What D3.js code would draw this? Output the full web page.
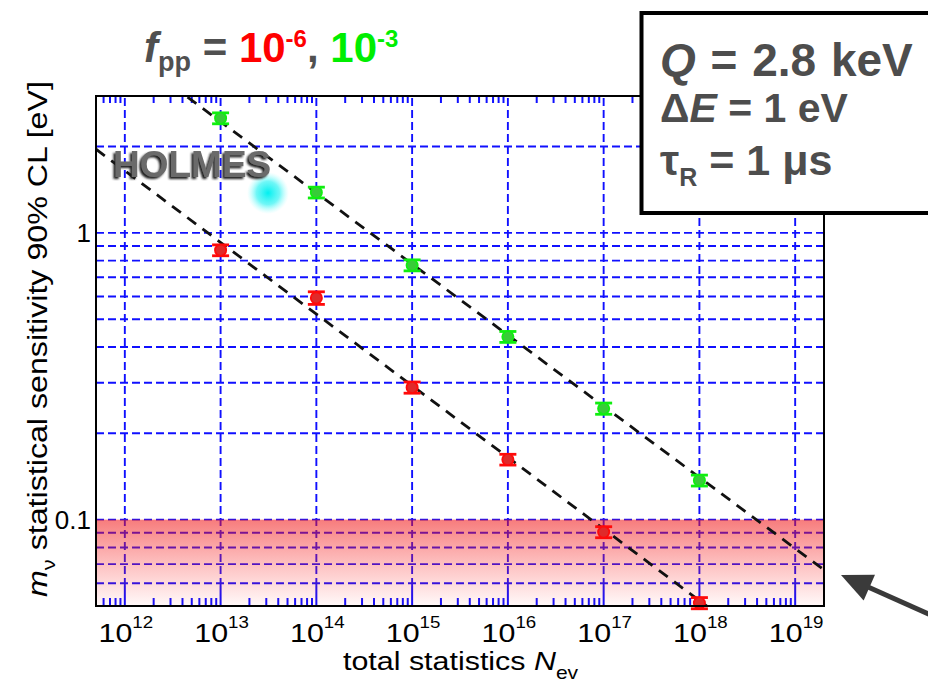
<!DOCTYPE html>
<html>
<head>
<meta charset="utf-8">
<script src="https://cdn.jsdelivr.net/npm/d3@7"></script>
<style>
  html, body { margin: 0; padding: 0; background: #fff; }
  svg { display: block; }
</style>
</head>
<body>
<svg id="chart" width="928" height="685"></svg>
<script>
// Total number of events at which the sensitivity was evaluated
const nEvents = [1e13, 1e14, 1e15, 1e16, 1e17, 1e18];

// f_pp = 1e-6 (red)
const sensLowPileup = [0.870, 0.593, 0.289, 0.162, 0.0905, 0.0512];
const errLowPileup  = [0.038, 0.030, 0.013, 0.007, 0.0040, 0.0023];

// f_pp = 1e-3 (green)
const sensHighPileup = [2.51, 1.383, 0.771, 0.434, 0.244, 0.137];
const errHighPileup  = [0.11, 0.060, 0.034, 0.019, 0.011, 0.006];

// N^-1/4 scaling guides, given by their end points
const guideLowN  = [5e11, 2e19];
const guideLowM  = [1.957, 0.0247];
const guideHighN = [5e11, 2e19];
const guideHighM = [5.13, 0.0668];

// Axes
const xDomain = [5e11, 2e19];
const yDomain = [0.05, 3];
const xTickExponents = [12, 13, 14, 15, 16, 17, 18, 19];
const yTickValues = [1, 0.1];
const yTickText = ["1", "0.1"];
const yGridValues = [2, 1, 0.9, 0.8, 0.7, 0.6, 0.5, 0.4, 0.3, 0.2, 0.1, 0.09, 0.08, 0.07, 0.06];
const targetBand = [0.05, 0.1];

const svg = d3.select("#chart");
const W = 928, H = 685;
const plot = { left: 96, right: 824, top: 96, bottom: 606 };

const x = d3.scaleLog().domain(xDomain).range([plot.left, plot.right]);
const y = d3.scaleLog().domain(yDomain).range([plot.bottom, plot.top]);

const FONT = "'Liberation Sans', Arial, Helvetica, sans-serif";
const STRETCH = 1.17;
const BLUE = "#1010ff";

svg.append("rect").attr("width", W).attr("height", H).attr("fill", "#fff");

const defs = svg.append("defs");
defs.append("clipPath").attr("id", "plotClip")
  .append("rect")
  .attr("x", plot.left).attr("y", plot.top)
  .attr("width", plot.right - plot.left).attr("height", plot.bottom - plot.top);

const bandGrad = defs.append("linearGradient").attr("id", "bandGrad")
  .attr("x1", 0).attr("y1", 0).attr("x2", 0).attr("y2", 1);
bandGrad.append("stop").attr("offset", "0%").attr("stop-color", "#f01010").attr("stop-opacity", 0.55);
bandGrad.append("stop").attr("offset", "100%").attr("stop-color", "#ff3030").attr("stop-opacity", 0.03);

const glowGrad = defs.append("radialGradient").attr("id", "glowGrad");
glowGrad.append("stop").attr("offset", "0%").attr("stop-color", "#00f0f0").attr("stop-opacity", 1);
glowGrad.append("stop").attr("offset", "55%").attr("stop-color", "#40f4f4").attr("stop-opacity", 0.75);
glowGrad.append("stop").attr("offset", "100%").attr("stop-color", "#a0ffff").attr("stop-opacity", 0);

// dark drop shadow for the logo lettering
const logoShadow = defs.append("filter").attr("id", "logoShadow")
  .attr("x", "-10%").attr("y", "-20%").attr("width", "120%").attr("height", "150%");
logoShadow.append("feDropShadow")
  .attr("dx", -2).attr("dy", 2).attr("stdDeviation", 0.8)
  .attr("flood-color", "#1a1a1a").attr("flood-opacity", 1);

// ---- grid ----
const grid = svg.append("g").attr("clip-path", "url(#plotClip)");
xTickExponents.forEach(e => {
  const v = Math.pow(10, e);
  grid.append("line")
    .attr("x1", x(v)).attr("x2", x(v))
    .attr("y1", plot.bottom - 20).attr("y2", plot.top)
    .attr("stroke", BLUE).attr("stroke-width", 1.9)
    .attr("stroke-dasharray", "8,4");
});
yGridValues.forEach(v => {
  grid.append("line")
    .attr("x1", plot.left).attr("x2", plot.right)
    .attr("y1", y(v)).attr("y2", y(v))
    .attr("stroke", BLUE).attr("stroke-width", 1.9)
    .attr("stroke-dasharray", "8,4");
});

// ---- x ticks (bottom and top) ----
const minorX = [];
for (let e = 11; e <= 19; e++) {
  for (let k = 2; k <= 9; k++) {
    const v = k * Math.pow(10, e);
    if (v >= xDomain[0] && v <= xDomain[1]) minorX.push(v);
  }
}
const ticks = svg.append("g").attr("stroke", BLUE).attr("stroke-width", 2);
minorX.forEach(v => {
  ticks.append("line").attr("x1", x(v)).attr("x2", x(v))
    .attr("y1", plot.bottom).attr("y2", plot.bottom - 8);
  ticks.append("line").attr("x1", x(v)).attr("x2", x(v))
    .attr("y1", plot.top).attr("y2", plot.top + 7);
});
xTickExponents.forEach(e => {
  const v = Math.pow(10, e);
  ticks.append("line").attr("x1", x(v)).attr("x2", x(v))
    .attr("y1", plot.bottom).attr("y2", plot.bottom - 20);
});

// ---- target region below 0.1 eV ----
svg.append("rect")
  .attr("x", plot.left).attr("width", plot.right - plot.left)
  .attr("y", y(targetBand[1])).attr("height", y(targetBand[0]) - y(targetBand[1]))
  .attr("fill", "url(#bandGrad)");

// ---- scaling guides ----
const guideLine = d3.line().x(d => x(d[0])).y(d => y(d[1]));
const guides = svg.append("g").attr("clip-path", "url(#plotClip)");
[[guideLowN, guideLowM], [guideHighN, guideHighM]].forEach(([ns, ms]) => {
  guides.append("path")
    .attr("d", guideLine(d3.zip(ns, ms)))
    .attr("fill", "none").attr("stroke", "#111").attr("stroke-width", 2.8)
    .attr("stroke-dasharray", "11,8");
});

// ---- points with error bars ----
function drawSeries(vals, errs, stroke, fill) {
  const g = svg.append("g");
  nEvents.forEach((n, i) => {
    const cx = x(n);
    const yHi = y(vals[i] + errs[i]);
    const yLo = y(vals[i] - errs[i]);
    g.append("line").attr("x1", cx).attr("x2", cx).attr("y1", yHi).attr("y2", yLo)
      .attr("stroke", stroke).attr("stroke-width", 2.2);
    [yHi, yLo].forEach(yy => {
      g.append("line").attr("x1", cx - 8.5).attr("x2", cx + 8.5).attr("y1", yy).attr("y2", yy)
        .attr("stroke", stroke).attr("stroke-width", 2.8);
    });
    g.append("circle").attr("cx", cx).attr("cy", y(vals[i])).attr("r", 5.6)
      .attr("fill", fill).attr("stroke", stroke).attr("stroke-width", 1.8);
  });
}
drawSeries(sensLowPileup, errLowPileup, "#ff0a0a", "#e02a2a");
drawSeries(sensHighPileup, errHighPileup, "#10ee10", "#38cc38");

// ---- frame ----
svg.append("rect")
  .attr("x", plot.left).attr("y", plot.top)
  .attr("width", plot.right - plot.left).attr("height", plot.bottom - plot.top)
  .attr("fill", "none").attr("stroke", "#000").attr("stroke-width", 2);

// ---- tick labels ----
xTickExponents.forEach(e => {
  const t = svg.append("g")
    .attr("transform", `translate(${x(Math.pow(10, e)) + 1},642) scale(${STRETCH},1)`)
    .append("text").attr("text-anchor", "middle")
    .attr("font-family", FONT).attr("font-size", 26).attr("fill", "#000");
  t.append("tspan").text("10");
  t.append("tspan").attr("font-size", 16).attr("dy", -14).text(String(e));
});
yTickValues.forEach((v, i) => {
  svg.append("text")
    .attr("x", 91).attr("y", y(v) + 9.5)
    .attr("text-anchor", "end")
    .attr("font-family", FONT).attr("font-size", 26).attr("fill", "#000")
    .text(yTickText[i]);
});

// ---- axis titles ----
const xTitle = svg.append("g")
  .attr("transform", `translate(343,670) scale(${STRETCH},1)`)
  .append("text").attr("font-family", FONT).attr("font-size", 26).attr("fill", "#000");
xTitle.append("tspan").text("total statistics ");
xTitle.append("tspan").attr("font-style", "italic").text("N");
xTitle.append("tspan").attr("font-size", 18).attr("dy", 9).text("ev");

const yTitle = svg.append("g")
  .attr("transform", `translate(47,597) rotate(-90) scale(1.15,1)`)
  .append("text").attr("font-family", FONT).attr("font-size", 28).attr("fill", "#000");
yTitle.append("tspan").attr("font-style", "italic").text("m");
yTitle.append("tspan").attr("font-size", 19).attr("dy", 8).text("ν");
yTitle.append("tspan").attr("dy", -8).text(" statistical sensitivity 90% CL [eV]");

// ---- HOLMES logo ----
svg.append("circle").attr("cx", 268).attr("cy", 193).attr("r", 21).attr("fill", "url(#glowGrad)");
svg.append("text").attr("x", 113).attr("y", 177)
  .attr("font-family", FONT).attr("font-weight", "bold").attr("font-size", 37)
  .attr("fill", "#6a6a6a").attr("filter", "url(#logoShadow)").text("HOLMES");

// ---- parameter box ----
svg.append("rect").attr("x", 641.5).attr("y", 13).attr("width", 400).attr("height", 200)
  .attr("fill", "#fff").attr("stroke", "#000").attr("stroke-width", 4);
const boxText = svg.append("g").attr("font-family", FONT).attr("font-weight", "bold").attr("fill", "#4d4d4d");
const l1 = boxText.append("text").attr("x", 660).attr("y", 76).attr("font-size", 46)
  .attr("word-spacing", 2);
l1.append("tspan").attr("font-style", "italic").text("Q");
l1.append("tspan").text(" = 2.8 keV");
const l2 = boxText.append("text").attr("x", 660).attr("y", 122).attr("font-size", 41);
l2.append("tspan").text("Δ");
l2.append("tspan").attr("font-style", "italic").text("E");
l2.append("tspan").text(" = 1 eV");
const l3 = boxText.append("text").attr("x", 660).attr("y", 175).attr("font-size", 43);
l3.append("tspan").text("τ");
l3.append("tspan").attr("font-size", 25).attr("dy", 11).text("R");
l3.append("tspan").attr("dy", -11).text(" = 1 μs");

// ---- title ----
const title = svg.append("text").attr("x", 144).attr("y", 62)
  .attr("font-family", FONT).attr("font-weight", "bold").attr("font-size", 42).attr("fill", "#505050");
title.append("tspan").attr("font-style", "italic").text("f");
title.append("tspan").attr("font-size", 27).attr("dy", 9).text("pp");
title.append("tspan").attr("dy", -9).text(" = ");
title.append("tspan").attr("fill", "#ff0000").text("10");
title.append("tspan").attr("fill", "#ff0000").attr("font-size", 24).attr("dy", -15).text("-6");
title.append("tspan").attr("dy", 15).text(", ");
title.append("tspan").attr("fill", "#00ee00").text("10");
title.append("tspan").attr("fill", "#00ee00").attr("font-size", 24).attr("dy", -15).text("-3");

// ---- arrow pointing at the plot corner ----
const tip = [841, 575], tail = [960, 628];
const dx = tail[0] - tip[0], dy = tail[1] - tip[1];
const len = Math.hypot(dx, dy), ux = dx / len, uy = dy / len;
const headLen = 31, headHalf = 14;
const base = [tip[0] + ux * headLen, tip[1] + uy * headLen];
svg.append("line")
  .attr("x1", base[0] - ux * 2).attr("y1", base[1] - uy * 2)
  .attr("x2", tail[0]).attr("y2", tail[1])
  .attr("stroke", "#3a3a3a").attr("stroke-width", 5);
svg.append("path")
  .attr("d", d3.line()([
    tip,
    [base[0] - uy * headHalf, base[1] + ux * headHalf],
    [base[0] + uy * headHalf, base[1] - ux * headHalf]
  ]) + "Z")
  .attr("fill", "#3a3a3a");
</script>
</body>
</html>
